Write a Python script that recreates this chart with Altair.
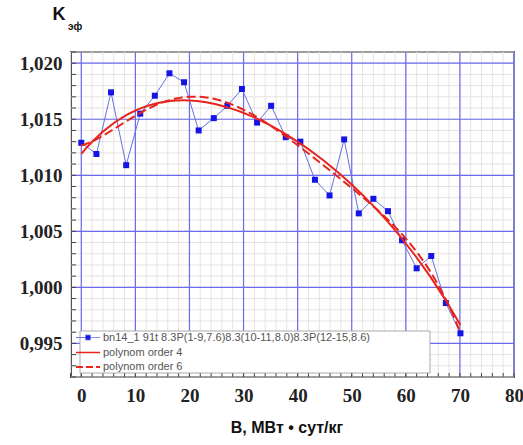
import altair as alt
import pandas as pd

# burnup, MW*day/kg
burnup = [0, 2.8, 5.5, 8.3, 10.9, 13.6, 16.3, 19.0, 21.7, 24.5, 27.0, 29.7, 32.5, 35.1,
          37.8, 40.5, 43.2, 45.9, 48.6, 51.3, 54.0, 56.7, 59.3, 62.0, 64.7, 67.4, 70.1]
keff = [1.0129, 1.0119, 1.0174, 1.0109, 1.0155, 1.0171, 1.0191, 1.0183, 1.0140, 1.0151,
        1.0162, 1.0177, 1.0147, 1.0162, 1.0134, 1.0130, 1.0096, 1.0082, 1.0132, 1.0066,
        1.0079, 1.0068, 1.0042, 1.0017, 1.0028, 0.9986, 0.9959]

series_names = ["bn14_1 91t 8.3P(1-9,7.6)8.3(10-11,8.0)8.3P(12-15,8.6)",
                "polynom order 4", "polynom order 6"]

x_major = [0, 10, 20, 30, 40, 50, 60, 70, 80]
x_minor = list(range(-2, 81, 2))
y_major = [0.995, 1.000, 1.005, 1.010, 1.015, 1.020]
y_minor = [round(0.992 + 0.001 * i, 3) for i in range(30)]

X_DOM = [-1.9, 80]
Y_DOM = [0.992, 1.021]
W, H = 443, 325

BLUE_PT = "#1414e6"
BLUE_LN = "#6470e4"
RED = "#e8241c"
MAJOR = "#6a6aee"
MINOR = "#e6e4e0"

df = pd.DataFrame({"x": burnup, "y": keff})
xs = alt.Scale(domain=X_DOM, nice=False, zero=False)
ys = alt.Scale(domain=Y_DOM, nice=False, zero=False)

x_axis = alt.Axis(values=x_major, grid=False, domain=False, ticks=False, tickSize=0,
                  labelFont="Liberation Serif", labelFontWeight="bold", labelFontSize=19,
                  labelColor="#222", labelPadding=9, title=None, labelFlush=False)
y_axis = alt.Axis(values=y_major, grid=False, domain=False, ticks=False, tickSize=0,
                  labelFont="Liberation Serif", labelFontWeight="bold", labelFontSize=19,
                  labelColor="#222", labelPadding=9, title=None,
                  labelExpr="replace(format(datum.value, '.3f'), '.', ',')")

one = pd.DataFrame({"a": [0]})

minor_v = alt.Chart(pd.DataFrame({"x": x_minor})).mark_rule(color=MINOR, strokeWidth=1).encode(
    x=alt.X("x:Q", scale=xs, axis=x_axis))
minor_h = alt.Chart(pd.DataFrame({"y": y_minor})).mark_rule(color=MINOR, strokeWidth=1).encode(
    y=alt.Y("y:Q", scale=ys, axis=y_axis))
major_v = alt.Chart(pd.DataFrame({"x": x_major})).mark_rule(color=MAJOR, strokeWidth=1.2).encode(
    x=alt.X("x:Q", scale=xs))
major_h = alt.Chart(pd.DataFrame({"y": y_major})).mark_rule(color=MAJOR, strokeWidth=1.2).encode(
    y=alt.Y("y:Q", scale=ys))

tick_b = alt.Chart(pd.DataFrame({"x": x_minor})).mark_rule(color="#444", strokeWidth=1).encode(
    x=alt.X("x:Q", scale=xs), y=alt.value(H - 4), y2=alt.value(H))
tick_l = alt.Chart(pd.DataFrame({"y": y_minor})).mark_rule(color="#444", strokeWidth=1).encode(
    y=alt.Y("y:Q", scale=ys), x=alt.value(0), x2=alt.value(5))

data_line = alt.Chart(df).mark_line(color=BLUE_LN, strokeWidth=1).encode(
    x=alt.X("x:Q", scale=xs), y=alt.Y("y:Q", scale=ys))
data_pts = alt.Chart(df).mark_point(shape="square", filled=True, color=BLUE_PT, size=36, opacity=1).encode(
    x=alt.X("x:Q", scale=xs), y=alt.Y("y:Q", scale=ys))

poly4 = alt.Chart(df).transform_regression("x", "y", method="poly", order=4).mark_line(
    color=RED, strokeWidth=2).encode(x=alt.X("x:Q", scale=xs), y=alt.Y("y:Q", scale=ys))
poly6 = alt.Chart(df).transform_regression("x", "y", method="poly", order=6).mark_line(
    color=RED, strokeWidth=2, strokeDash=[9, 4]).encode(x=alt.X("x:Q", scale=xs), y=alt.Y("y:Q", scale=ys))

leg_box = alt.Chart(one).mark_rect(fill="white", stroke="#aaaaaa", strokeWidth=1).encode(
    x=alt.value(9), x2=alt.value(359), y=alt.value(279), y2=alt.value(321))

leg = alt.Legend(title=None, orient="none", legendX=10, legendY=279, padding=0,
                 rowPadding=2.5, labelFont="Liberation Sans", labelFontSize=11,
                 labelColor="#555", labelLimit=500, symbolSize=144, labelOffset=8,
                 symbolOpacity=1)
sq = "M-2,0H-0.4M0.4,0H2M-0.4,-0.4H0.4V0.4H-0.4Z"
ln = "M-2,0H2"
leg_df = pd.DataFrame({"s": series_names})
legend_layer = alt.Chart(leg_df).mark_point(filled=True, opacity=0).encode(
    fill=alt.Fill("s:N", scale=alt.Scale(domain=series_names, range=[BLUE_PT, RED, RED]), legend=leg),
    stroke=alt.Stroke("s:N", scale=alt.Scale(domain=series_names, range=[BLUE_LN, RED, RED]), legend=leg),
    shape=alt.Shape("s:N", scale=alt.Scale(domain=series_names, range=[sq, ln, ln]), legend=leg),
    strokeDash=alt.StrokeDash("s:N", scale=alt.Scale(domain=series_names, range=[[1, 0], [1, 0], [7, 3]]), legend=leg),
    strokeWidth=alt.StrokeWidth("s:N", scale=alt.Scale(domain=series_names, range=[1, 2, 2]), legend=leg),
)

k_txt = alt.Chart(one).mark_text(text="K", font="Liberation Sans", fontWeight="bold", fontSize=18,
                                 align="center", baseline="alphabetic", color="#111").encode(
    x=alt.value(-12), y=alt.value(-32))
sub_txt = alt.Chart(one).mark_text(text="эф", font="Liberation Sans", fontWeight="bold", fontSize=10,
                                   align="left", baseline="alphabetic", color="#111").encode(
    x=alt.value(-3), y=alt.value(-22))
x_title = alt.Chart(one).mark_text(text="B, МВт • сут/кг", font="Liberation Sans", fontWeight="bold",
                                   fontSize=16, align="center", baseline="alphabetic", color="#111").encode(
    x=alt.value(216), y=alt.value(381))

chart = alt.layer(
    minor_v, minor_h, major_v, major_h, tick_b, tick_l,
    data_line, data_pts, poly4, poly6, leg_box, legend_layer,
    k_txt, sub_txt, x_title,
).properties(
    width=W, height=H,
    autosize=alt.AutoSizeParams(type="none"),
    padding={"left": 71, "top": 52, "right": 9, "bottom": 68},
    background="white",
).configure_view(stroke="#555", strokeWidth=2)

chart.save("out.html", embed_options={"renderer": "svg", "actions": False})
